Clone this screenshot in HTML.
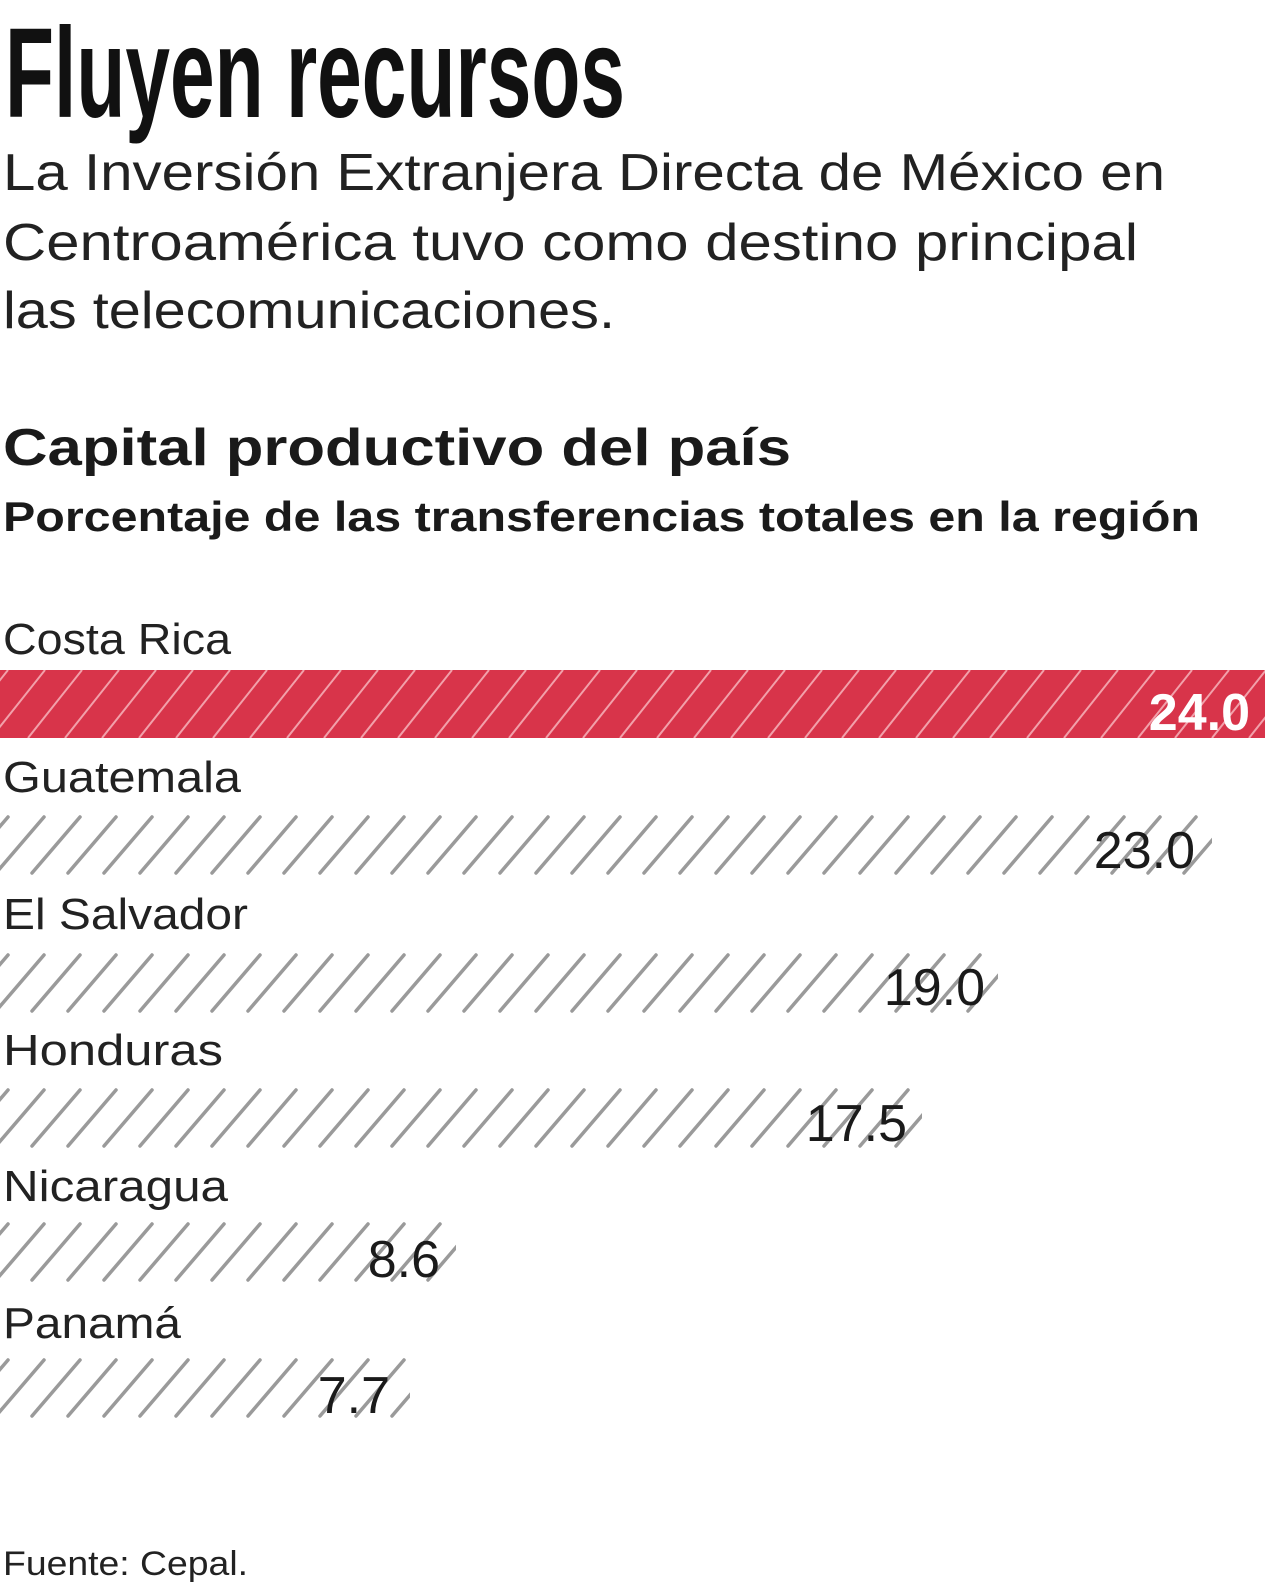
<!DOCTYPE html>
<html><head><meta charset="utf-8"><style>
html,body{margin:0;padding:0;background:#fff;}
svg{display:block}
text{font-family:"Liberation Sans",sans-serif;}
</style></head><body>
<svg width="1280" height="1587" viewBox="0 0 1280 1587" xmlns="http://www.w3.org/2000/svg">
<defs>
<pattern id="g" patternUnits="userSpaceOnUse" width="36" height="60">
<g stroke="#9a9a9a" stroke-width="3.5" stroke-linecap="round">
<line x1="-40" y1="58" x2="8" y2="2"/><line x1="-4" y1="58" x2="44" y2="2"/><line x1="32" y1="58" x2="80" y2="2"/>
</g></pattern>
<pattern id="r" patternUnits="userSpaceOnUse" width="37" height="68">
<rect width="37" height="68" fill="#d8344a"/>
<g stroke="#f2a0aa" stroke-width="2">
<line x1="-46" y1="68" x2="8" y2="0"/><line x1="-9" y1="68" x2="45" y2="0"/><line x1="28" y1="68" x2="82" y2="0"/>
</g></pattern>
</defs>
<text x="5" y="117" font-size="128" font-weight="bold" textLength="620" lengthAdjust="spacingAndGlyphs" fill="#111">Fluyen recursos</text>
<g font-size="52" fill="#222">
<text x="3" y="190" textLength="1162" lengthAdjust="spacingAndGlyphs">La Inversión Extranjera Directa de México en</text>
<text x="3" y="260" textLength="1135" lengthAdjust="spacingAndGlyphs">Centroamérica tuvo como destino principal</text>
<text x="3" y="328" textLength="612" lengthAdjust="spacingAndGlyphs">las telecomunicaciones.</text>
</g>
<text x="3" y="465" font-size="52" font-weight="bold" fill="#1a1a1a" textLength="788" lengthAdjust="spacingAndGlyphs">Capital productivo del país</text>
<text x="3" y="531" font-size="42" font-weight="bold" fill="#1a1a1a" textLength="1197" lengthAdjust="spacingAndGlyphs">Porcentaje de las transferencias totales en la región</text>
<g font-size="44" fill="#222">
<text x="3" y="654" textLength="228" lengthAdjust="spacingAndGlyphs">Costa Rica</text>
<text x="3" y="792" textLength="238" lengthAdjust="spacingAndGlyphs">Guatemala</text>
<text x="3" y="929" textLength="245" lengthAdjust="spacingAndGlyphs">El Salvador</text>
<text x="3" y="1065" textLength="220" lengthAdjust="spacingAndGlyphs">Honduras</text>
<text x="3" y="1201" textLength="225" lengthAdjust="spacingAndGlyphs">Nicaragua</text>
<text x="3" y="1338" textLength="178" lengthAdjust="spacingAndGlyphs">Panamá</text>
</g>
<svg x="0" y="670" width="1265" height="68"><rect width="1265" height="68" fill="url(#r)"/></svg>
<text x="1250" y="730" font-size="52" font-weight="bold" fill="#fff" text-anchor="end">24.0</text>
<svg x="0" y="815" width="1212" height="60"><rect width="1212" height="60" fill="url(#g)"/></svg>
<svg x="0" y="953" width="998" height="60"><rect width="998" height="60" fill="url(#g)"/></svg>
<svg x="0" y="1088" width="922" height="60"><rect width="922" height="60" fill="url(#g)"/></svg>
<svg x="0" y="1222" width="456" height="60"><rect width="456" height="60" fill="url(#g)"/></svg>
<svg x="0" y="1358" width="410" height="60"><rect width="410" height="60" fill="url(#g)"/></svg>
<g font-size="52" fill="#1a1a1a" text-anchor="end">
<text x="1195" y="868">23.0</text>
<text x="985" y="1005">19.0</text>
<text x="907" y="1141">17.5</text>
<text x="440" y="1277">8.6</text>
<text x="390" y="1413">7.7</text>
</g>
<text x="3" y="1575" font-size="34" fill="#222" textLength="245" lengthAdjust="spacingAndGlyphs">Fuente: Cepal.</text>
</svg>
</body></html>
